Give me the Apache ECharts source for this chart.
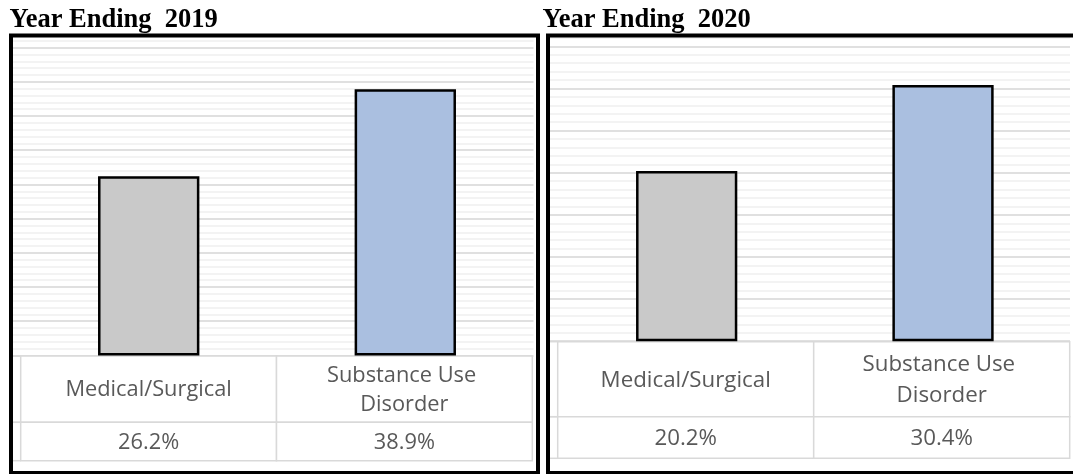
<!DOCTYPE html>
<html>
<head>
<meta charset="utf-8">
<script src="https://cdn.jsdelivr.net/npm/echarts@6/dist/echarts.min.js"></script>
<style>html,body{margin:0;padding:0;background:#fff;}#c{width:1073px;height:474px;}</style>
</head>
<body>
<div id="c"></div>
<script>
// ---- data ----
const categories = ['Medical/Surgical', 'Substance Use Disorder'];
const values2019 = [26.2, 38.9];
const values2020 = [20.2, 30.4];
const panelTitles = ['Year Ending  2019', 'Year Ending  2020'];
const axisMax = [46, 36];

// ---- layout / style ----
const barColors = ['#c9c9c9', '#aabfe0'];
const layouts = [
  { bgL: 13, bgR: 533.5, barL: 20.4, barR: 533.6, top: 40.8, base: 355.4,
    tL: 20.7, tR: 532.3, r1: 356, r2: 422.3, r3: 460.7, stubX: 13,
    font: 21.8, lh: 29.3, titleX: 9.5, frame: [11, 35.5, 527, 437.5] },
  { bgL: 550, bgR: 1070, barL: 558.5, barR: 1071.2, top: 37.9, base: 341.2,
    tL: 557.7, tR: 1069.7, r1: 341.7, r2: 416.7, r3: 458.3, stubX: 550,
    font: 22.3, lh: 31.5, titleX: 542.5, frame: [548, 35.5, 540, 437.5] }
];
const chart = echarts.init(document.getElementById('c'), null, { renderer: 'canvas' });

const grids = [], xAxes = [], yAxes = [], series = [], titles = [], graphics = [];
const allValues = [values2019, values2020];

layouts.forEach(function (L, p) {
  const g0 = grids.length;
  // background grid (gridlines)
  grids.push({ left: L.bgL, width: L.bgR - L.bgL, top: L.top, height: L.base - L.top, containLabel: false });
  xAxes.push({ gridIndex: g0, type: 'value', show: false, min: 0, max: 1 });
  yAxes.push({ gridIndex: g0, type: 'value', min: 0, max: axisMax[p], interval: 1,
    axisLine: { show: false }, axisTick: { show: false }, axisLabel: { show: false },
    splitLine: { show: true, lineStyle: { width: 1.7, color: ['#d6d6d6', '#efefef', '#efefef', '#efefef', '#efefef'] } } });
  // bar grid
  const g1 = g0 + 1;
  grids.push({ left: L.barL, width: L.barR - L.barL, top: L.top, height: L.base - L.top });
  xAxes.push({ gridIndex: g1, type: 'category', data: categories, axisLine: { show: false }, axisTick: { show: false }, axisLabel: { show: false }, splitLine: { show: false } });
  yAxes.push({ gridIndex: g1, type: 'value', min: 0, max: axisMax[p], show: false });
  series.push({ type: 'bar', xAxisIndex: g1, yAxisIndex: g1, data: allValues[p], barWidth: '39.5%',
    itemStyle: { color: function (pp) { return barColors[pp.dataIndex]; }, borderColor: '#000', borderWidth: 2.5 },
    silent: true, animation: false });
  // table rows
  const rows = [
    { top: L.r1, h: L.r2 - L.r1, texts: categories },
    { top: L.r2, h: L.r3 - L.r2, texts: allValues[p].map(function (v) { return v.toFixed(1) + '%'; }) }
  ];
  rows.forEach(function (R, ri) {
    const gi = grids.length;
    grids.push({ left: L.tL, width: L.tR - L.tL, top: R.top, height: R.h });
    xAxes.push({ gridIndex: gi, type: 'category', data: categories, show: false });
    yAxes.push({ gridIndex: gi, type: 'category', data: [''], show: false });
    series.push({ type: 'custom', xAxisIndex: gi, yAxisIndex: gi, animation: false, silent: true, clip: false,
      data: R.texts.map(function (t, i) { return [i, 0, t]; }),
      renderItem: function (params, api) {
        const ci = api.value(0);
        const c = api.coord([ci, 0]);
        const s = api.size([1, 1]);
        const x = c[0] - s[0] / 2, y = c[1] - s[1] / 2;
        const txt = R.texts[ci];
        const children = [
          { type: 'rect', shape: { x: x, y: y, width: s[0], height: s[1] }, style: { fill: '#fff', stroke: '#d9d9d9', lineWidth: 1.5 } },
          { type: 'text', x: c[0], y: c[1] + 1, style: { text: txt, fill: '#595959', fontFamily: 'Open Sans', fontSize: L.font,
              align: 'center', verticalAlign: 'middle', width: 200, overflow: 'break', lineHeight: L.lh } }
        ];
        if (ci === 0) {
          children.push({ type: 'line', shape: { x1: L.stubX, y1: y, x2: x, y2: y }, style: { stroke: '#d9d9d9', lineWidth: 1.5 } });
          children.push({ type: 'line', shape: { x1: L.stubX, y1: y + s[1], x2: x, y2: y + s[1] }, style: { stroke: '#d9d9d9', lineWidth: 1.5 } });
        }
        return { type: 'group', children: children };
      }
    });
  });
  titles.push({ text: panelTitles[p], left: L.titleX, top: 7, padding: 0,
    textStyle: { fontFamily: 'Liberation Serif', fontWeight: 'bold', fontSize: 26.5, color: '#000' } });
  graphics.push({ type: 'rect', z: 100, shape: { x: L.frame[0], y: L.frame[1], width: L.frame[2], height: L.frame[3] },
    style: { fill: 'none', stroke: '#000', lineWidth: 4 }, silent: true });
});

chart.setOption({
  animation: false,
  backgroundColor: '#fff',
  title: titles,
  grid: grids,
  xAxis: xAxes,
  yAxis: yAxes,
  series: series,
  graphic: graphics
});
</script>
</body>
</html>
